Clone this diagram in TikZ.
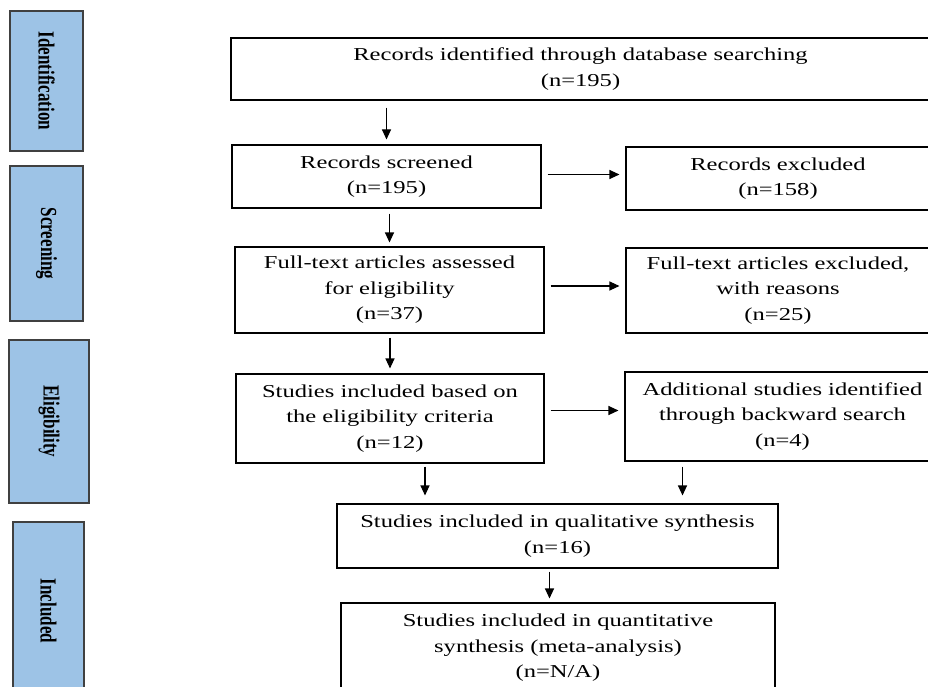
\documentclass[tikz,border=0pt]{standalone}
\usepackage{fontspec}
\setmainfont{Liberation Serif}[FakeStretch=1.35]
\newfontfamily\phasefont{Liberation Serif}[FakeStretch=0.74]
\usetikzlibrary{arrows.meta}
\definecolor{phaseblue}{HTML}{9DC3E6}

\tikzset{
    box/.style={draw,line width=1.1pt,align=center,inner sep=0pt,font=\fontsize{18.2}{25.5}\selectfont},
    phase/.style={draw=black!75,line width=1.1pt,fill=phaseblue,rotate=-90,inner sep=0pt,font=\phasefont\fontsize{23}{25}\selectfont\bfseries},
    arr/.style={-{Triangle[length=10pt,width=9pt]},line width=1.1pt}
}

\begin{document}
\begin{tikzpicture}[x=1pt,y=-1pt]
    \useasboundingbox (0,0) rectangle (928,687);

    \node[phase,minimum width=140,minimum height=73] (idn) at(46.5,81){Identification};
    \node[phase,minimum width=155,minimum height=73] (scrn) at(46.5,243.5){Screening};
    \node[phase,minimum width=163,minimum height=80] (elig) at(49,421.5){Eligibility};
    \node[phase,minimum width=178,minimum height=71] (incl) at(48.5,611){Included};

    \node[box,minimum width=699,minimum height=62] (ids) at(580.5,69){Records identified through database searching\\(n=195)};
    \node[box,minimum width=309,minimum height=63] (scr) at(386.5,176.5){Records screened\\(n=195)};
    \node[box,minimum width=304,minimum height=63] (exc) at(778,178.5){Records excluded\\(n=158)};
    \node[box,minimum width=309,minimum height=86] (ful) at(389.5,290){Full-text articles assessed\\for eligibility\\(n=37)};
    \node[box,minimum width=304,minimum height=85] (fex) at(778,290.5){Full-text articles excluded,\\with reasons\\(n=25)};
    \node[box,minimum width=308,minimum height=89] (inc) at(390,418.5){Studies included based on\\the eligibility criteria\\(n=12)};
    \node[box,minimum width=315,minimum height=89] (add) at(782.5,416.5){Additional studies identified\\through backward search\\(n=4)};
    \node[box,minimum width=441,minimum height=64] (qual) at(557.5,536){Studies included in qualitative synthesis\\(n=16)};
    \node[box,minimum width=434,minimum height=90] (quan) at(558,648){Studies included in quantitative\\synthesis (meta-analysis)\\(n=N/A)};

    \draw[arr,shorten <=7pt,shorten >=5pt](scr.north |- ids.south)--(scr.north);
    \draw[arr,shorten <=5pt,shorten >=4pt](ful.north |- scr.south)--(ful.north);
    \draw[arr,shorten <=4pt,shorten >=5pt](inc.north |- ful.south)--(inc.north);
    \draw[arr,shorten <=6pt,shorten >=6pt]([yshift=2pt]scr.east)--([yshift=2pt]scr.east -| exc.west);
    \draw[arr,shorten <=6pt,shorten >=6pt]([yshift=4pt]ful.east)--([yshift=4pt]ful.east -| fex.west);
    \draw[arr,shorten <=6pt,shorten >=6pt]([yshift=8pt]inc.east)--([yshift=8pt]inc.east -| add.west);
    \draw[arr,shorten <=3pt,shorten >=8pt]([xshift=35pt]inc.south)--([xshift=35pt]inc.south |- qual.north);
    \draw[arr,shorten <=5pt,shorten >=8pt]([xshift=-100pt]add.south)--([xshift=-100pt]add.south |- qual.north);
    \draw[arr,shorten <=3pt,shorten >=4pt]([xshift=-8pt]qual.south)--([xshift=-8pt]qual.south |- quan.north);
\end{tikzpicture}
\end{document}
